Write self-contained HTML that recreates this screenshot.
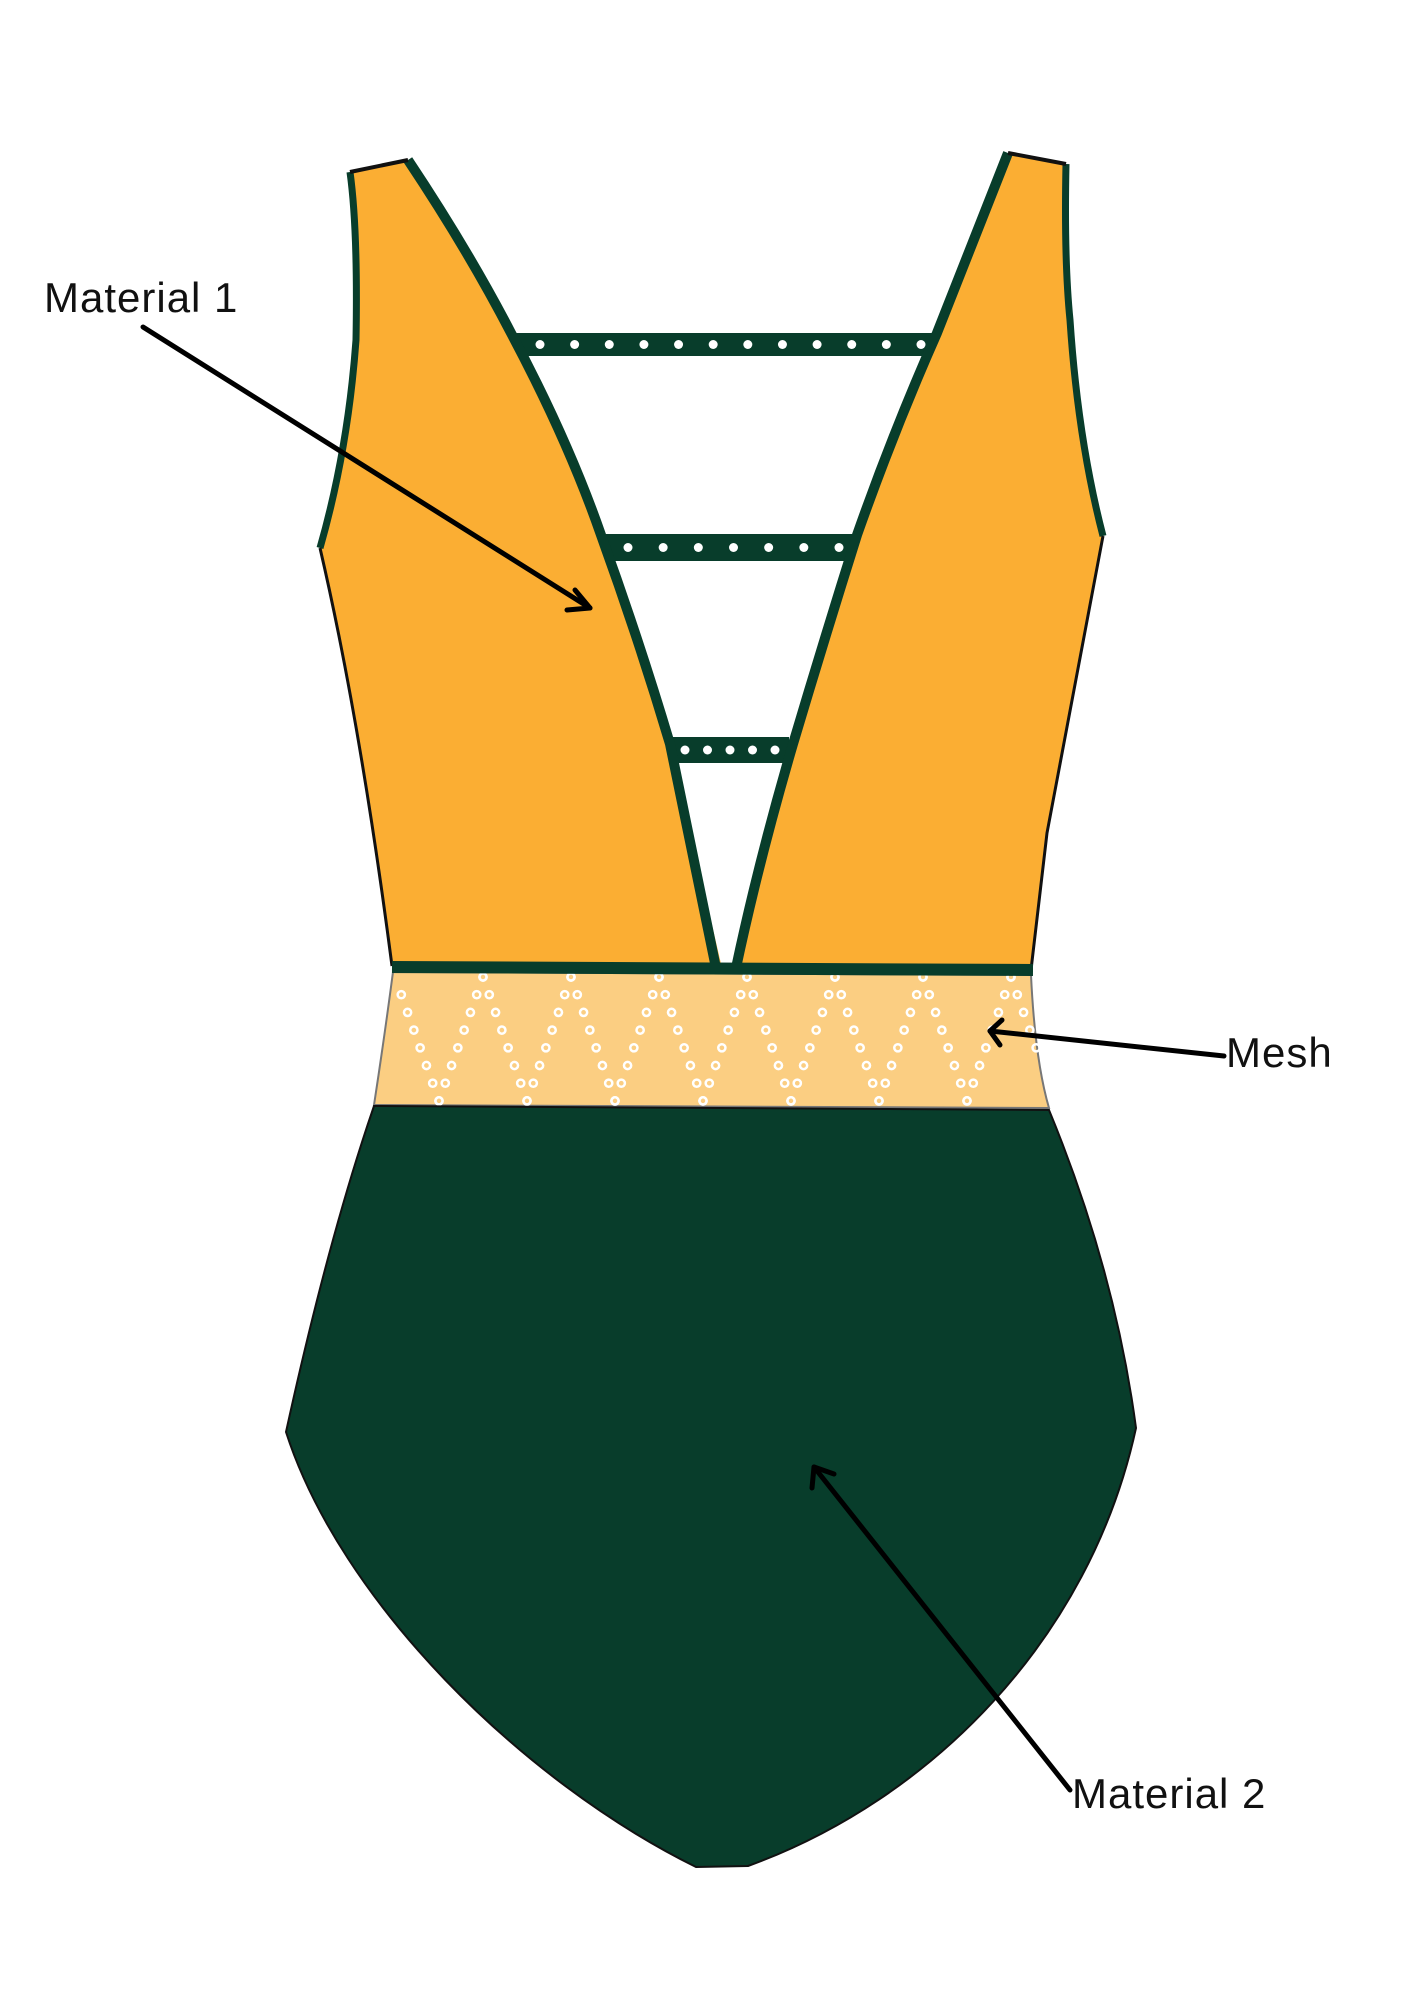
<!DOCTYPE html>
<html><head><meta charset="utf-8"><style>
html,body{margin:0;padding:0;background:#fff;width:1414px;height:2000px;overflow:hidden}
svg{display:block}
text{font-family:"Liberation Sans",sans-serif;font-size:42px;fill:#111;letter-spacing:1px}
</style></head><body>
<svg width="1414" height="2000" viewBox="0 0 1414 2000" xmlns="http://www.w3.org/2000/svg">
<!-- straps -->
<rect x="500" y="333" width="450" height="23" fill="#083d2b"/>
<rect x="594" y="534" width="270" height="27" fill="#083d2b"/>
<rect x="664" y="737" width="125" height="26" fill="#083d2b"/>
<g fill="#fff">
<g id="s1"></g>
</g>
<!-- left panel -->
<path d="M350,172 L408,160 Q468,250 511,333 Q568,440 601,535 Q639,640 670,744 L722,968 L392,966 Q360,720 320,548 Q348,450 356,340 Q358,230 350,172 Z" fill="#fbae33"/>
<!-- right panel -->
<path d="M1008,153 L1066,164 Q1064,260 1070,320 Q1078,440 1103,536 Q1068,720 1047,833 L1031,970 L736,968 Q759,860 793,744 Q824,640 857,535 Q894,430 937,333 Q972,245 1008,153 Z" fill="#fbae33"/>
<!-- neckline strokes -->
<path d="M408,160 Q468,250 511,333 Q568,440 601,535 Q639,640 670,744 L716,968" fill="none" stroke="#083d2b" stroke-width="10"/>
<path d="M1008,153 Q972,245 937,333 Q894,430 857,535 Q824,640 793,744 Q759,860 736,968" fill="none" stroke="#083d2b" stroke-width="10"/>
<!-- armholes -->
<path d="M350,172 Q358,230 356,340 Q348,450 320,548" fill="none" stroke="#083d2b" stroke-width="7"/>
<path d="M1066,164 Q1064,260 1070,320 Q1078,440 1103,536" fill="none" stroke="#083d2b" stroke-width="7"/>
<path d="M350,172 L408,160 M1008,153 L1066,164" stroke="#111" stroke-width="4"/>
<!-- sides -->
<path d="M320,548 Q360,720 392,966" fill="none" stroke="#111" stroke-width="3"/>
<path d="M1103,536 Q1068,720 1047,833 L1031,970" fill="none" stroke="#111" stroke-width="3"/>
<!-- mesh -->
<path d="M393,972 L1031,975 Q1035,1060 1049,1108 L374,1105 Q384,1040 393,972 Z" fill="#fbce82" stroke="#777" stroke-width="2"/>
<g id="mesh" fill="none" stroke="#fff" stroke-width="2.5"></g>
<!-- waist band -->
<path d="M392,967 L1033,970" stroke="#083d2b" stroke-width="12"/>
<!-- bottom -->
<path d="M374,1106 L1049,1110 Q1115,1270 1136,1428 C1090,1640 930,1800 748,1866 L696,1867 C520,1780 340,1600 286,1432 Q328,1240 374,1106 Z" fill="#083d2b" stroke="#111" stroke-width="2"/>
<!-- arrows -->
<g stroke="#000" stroke-width="5" fill="none" stroke-linecap="round" stroke-linejoin="round">
<line x1="143" y1="327" x2="590" y2="608"/>
<path d="M575,590 L590,608 L567,610"/>
<line x1="1224" y1="1056" x2="990" y2="1031"/>
<path d="M1002,1020 L990,1031 L1000,1045"/>
<line x1="1070" y1="1790" x2="814" y2="1467"/>
<path d="M812,1488 L814,1467 L834,1474"/>
</g>
<text x="44" y="312">Material 1</text>
<text x="1226" y="1067">Mesh</text>
<text x="1072" y="1808">Material 2</text>
</svg>
<script>
var ns="http://www.w3.org/2000/svg";
function dot(x,y,r,par){var c=document.createElementNS(ns,'circle');c.setAttribute('cx',x);c.setAttribute('cy',y);c.setAttribute('r',r);par.appendChild(c);}
var s1=document.getElementById('s1');
[[540,921,12,344.5],[628,839,7,547.5],[685,775,5,750]].forEach(function(a){for(var i=0;i<a[2];i++){dot(a[0]+(a[1]-a[0])*i/(a[2]-1),a[3],4.5,s1);}});
var m=document.getElementById('mesh');
for(var k=-1;k<9;k++){var px=395+88*k;
 for(var i=0;i<8;i++){var y=977+i*17.7,off=i*44/7;
  [px-off,px+off].forEach(function(x){var t=(y-972)/136;var L=393-19*t,R=1031+18*t;if(x>L+3&&x<R-2)dot(x,y,3.6,m);});
 }}
</script>
</body></html>
